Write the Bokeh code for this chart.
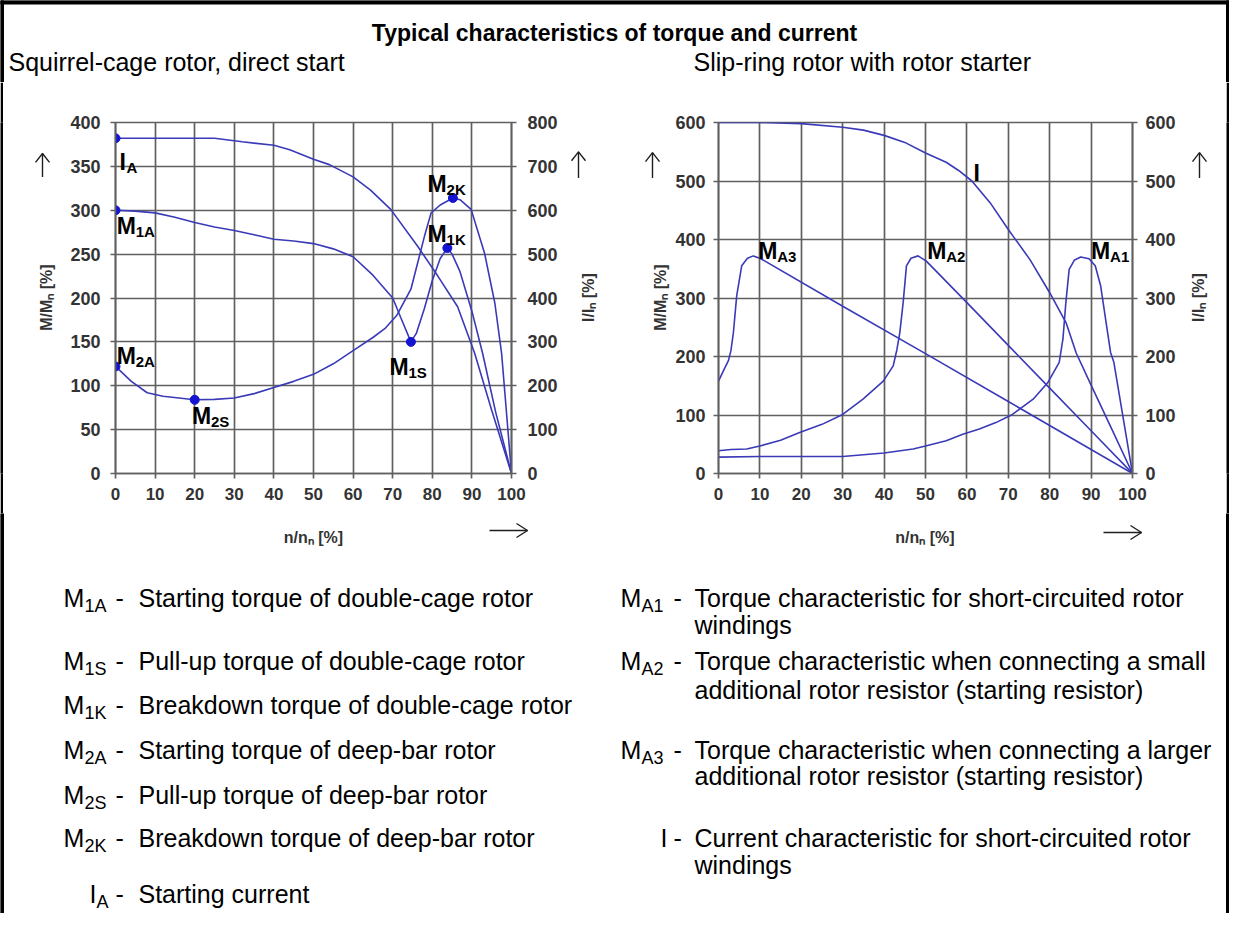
import math
from bokeh.plotting import figure
from bokeh.models import Range1d, LinearAxis, FixedTicker
from bokeh.layouts import column, row
from bokeh.embed import file_html
from bokeh.resources import INLINE
from bokeh.core.properties import value

# ---------------- data : left chart (squirrel-cage rotor, direct start) ----------------
speed_ticks = list(range(0, 101, 10))
torque_ticks_left = list(range(0, 401, 50))
current_ticks_left = list(range(0, 801, 100))

speed_m1 = [0, 5, 10, 15, 20, 25, 30, 35, 40, 45, 50, 55, 60, 65, 70, 72, 74.6, 76, 78, 80, 82, 83.8, 85, 87, 90, 92.7, 96, 100]
torque_m1 = [300, 299, 297, 292, 286, 281, 277, 272, 267, 265, 262, 256, 247, 226, 200, 178, 150, 160, 188, 220, 245, 257, 250, 230, 185, 137, 70, 0]

speed_m2 = [0, 4, 8, 12, 16, 20, 25, 30, 35, 40, 45, 50, 55, 60, 65, 68, 71, 74.6, 78, 79.7, 82, 85.2, 87, 89.8, 93.2, 95.8, 97.5, 100]
torque_m2 = [122, 105, 92, 88, 86, 84, 84.5, 86, 91, 98, 105, 113, 125, 140, 155, 165, 180, 210, 270, 297, 306, 314, 312, 301, 251, 194, 137, 0]

speed_ia = [0, 10, 20, 25, 32, 40, 44, 50, 54, 60, 64.4, 69.5, 76.3, 81.4, 86.4, 90.7, 95, 100]
current_ia = [764, 764, 764, 764, 756, 748, 738, 716, 704, 676, 646, 602, 518, 450, 380, 274, 144, 0]

key_main = ["M", "M", "M", "M", "M", "M"]
key_sub = ["1A", "1S", "1K", "2A", "2S", "2K"]
key_speed = [0, 74.6, 83.8, 0, 20, 85.2]
key_torque = [300, 150, 257, 122, 84, 314]
ia_speed = [0]
ia_current = [764]

# ---------------- data : right chart (slip-ring rotor with rotor starter) ----------------
torque_ticks_right = list(range(0, 601, 100))

speed_ma1 = [0, 10, 20, 30, 40, 47, 50, 55, 59, 63, 67, 71, 76, 79.5, 82.3, 83.2, 83.9, 84.7, 86, 87.5, 89.5, 91, 92.3, 93.5, 94.7, 95.5, 100]
torque_ma1 = [28, 29, 29, 29, 35, 42, 47, 56, 67, 76, 87, 101, 127, 155, 190, 230, 292, 349, 365, 370, 367, 355, 321, 264, 207, 190, 0]

speed_ma2 = [0, 3, 6.8, 10, 15, 19.6, 25, 30, 34.9, 39.8, 42.2, 43.1, 43.8, 44.6, 45.4, 46.5, 48.2, 50.2, 60, 70, 80, 90, 100]
torque_ma2 = [39, 41, 42, 47, 57, 70, 84, 101, 127, 158, 184, 212, 241, 292, 355, 368, 372, 363, 292, 219, 146, 73, 0]

speed_ma3 = [0, 1.5, 2.4, 3, 3.6, 4.4, 5.6, 7, 8.4, 10, 30, 50, 70, 90, 100]
torque_ma3 = [158, 180, 193, 210, 241, 304, 355, 368, 372, 368, 286, 205, 123, 41, 0]

speed_i = [0, 10, 20, 30, 35, 40, 45, 50, 55, 58, 61.2, 65.6, 70, 75.2, 80, 84, 86.4, 90, 95, 100]
current_i = [600, 600, 598, 592, 587, 578, 566, 548, 532, 518, 500, 463, 417, 366, 309, 257, 206, 151, 76, 0]

rkey_main = ["M", "M", "M", "I"]
rkey_sub = ["A3", "A2", "A1", ""]

# ---------------- texts ----------------
title_text = "Typical characteristics of torque and current"
subtitles = ["Squirrel-cage rotor, direct start", "Slip-ring rotor with rotor starter"]
x_title = "n/nₙ [%]"
m_title = "M/Mₙ [%]"
i_title = "I/Iₙ [%]"

left_sym = ["M", "M", "M", "M", "M", "M", "I"]
left_sub = ["1A", "1S", "1K", "2A", "2S", "2K", "A"]
left_desc = ["Starting torque of double-cage rotor",
             "Pull-up torque of double-cage rotor",
             "Breakdown torque of double-cage rotor",
             "Starting torque of deep-bar rotor",
             "Pull-up torque of deep-bar rotor",
             "Breakdown torque of deep-bar rotor",
             "Starting current"]
right_sym = ["M", "M", "M", "I"]
right_sub = ["A1", "A2", "A3", ""]
right_desc = [["Torque characteristic for short-circuited rotor", "windings"],
              ["Torque characteristic when connecting a small", "additional rotor resistor (starting resistor)"],
              ["Torque characteristic when connecting a larger", "additional rotor resistor (starting resistor)"],
              ["Current characteristic for short-circuited rotor", "windings"]]

# ---------------- styles ----------------
LINE = "#3a3ab8"
DOT = "#1414d2"
GRID = "#606060"
TICK_TXT = "#333333"
ARROW = "#1e1e1e"
SANS = "Liberation Sans"
ROW_TOP, ROW_BOT = 90, 521


def style_axis(ax, ticks, standoff=9, size="18px"):
    ax.ticker = FixedTicker(ticks=ticks)
    ax.major_label_text_font = SANS
    ax.major_label_text_font_style = "bold"
    ax.major_label_text_font_size = size
    ax.major_label_text_color = TICK_TXT
    ax.axis_line_color = GRID
    ax.axis_line_width = 1.7
    ax.major_tick_line_color = GRID
    ax.major_tick_line_width = 1.7
    ax.major_tick_in = 0
    ax.major_tick_out = 5
    ax.minor_tick_line_color = None
    ax.major_label_standoff = standoff


def style_fig(p):
    p.background_fill_color = "white"
    p.border_fill_color = "white"
    p.outline_line_color = GRID
    p.outline_line_width = 1.7
    p.grid.grid_line_color = GRID
    p.grid.grid_line_width = 1.7


def add_keys(p, xs, ys, mains, subs, y_range_name="default"):
    p.text(x=xs, y=ys, text=mains, text_baseline="top", text_align="left",
           text_font=value(SANS), text_font_style="bold", text_font_size="23px",
           text_color="black", y_range_name=y_range_name)
    offs = [7 if m == "I" else 19 for m in mains]
    p.text(x=xs, y=ys, text=subs, text_baseline="top", text_align="left",
           x_offset=offs, y_offset=10,
           text_font=value(SANS), text_font_style="bold", text_font_size="15px",
           text_color="black", y_range_name=y_range_name)


def pixel_fig(w, h, x0, x1, y0, y1):
    f = figure(width=w, height=h, x_range=Range1d(x0, x1), y_range=Range1d(y1, y0),
               toolbar_location=None, output_backend="svg", min_border=0,
               x_axis_type=None, y_axis_type=None)
    f.grid.visible = False
    f.outline_line_color = None
    f.background_fill_color = "white"
    f.border_fill_color = "white"
    return f


def up_arrow(f, x, top, bottom):
    f.line([x, x], [bottom, top], line_color=ARROW, line_width=1.4)
    f.line([x - 7, x, x + 7], [top + 11, top, top + 11], line_color=ARROW, line_width=1.4)


def right_arrow(f, left, right, y):
    f.line([left, right], [y, y], line_color=ARROW, line_width=1.4)
    f.line([right - 11, right, right - 11], [y - 7, y, y + 7], line_color=ARROW, line_width=1.4)


def side_title(f, x, y, txt):
    f.text(x=[x], y=[y], text=[txt], angle=math.pi / 2, text_align="center", text_baseline="middle",
           text_font=value(SANS), text_font_style="bold", text_font_size="16px", text_color=TICK_TXT)


# ---------------- left chart ----------------
pL = figure(width=502, height=ROW_BOT - ROW_TOP, x_range=Range1d(0, 100), y_range=Range1d(0, 400),
            output_backend="svg", toolbar_location=None,
            min_border_left=53, min_border_right=53, min_border_top=39, min_border_bottom=40)
style_fig(pL)
pL.extra_y_ranges = {"cur": Range1d(0, 800)}
pL.add_layout(LinearAxis(y_range_name="cur"), "right")
style_axis(pL.xaxis[0], speed_ticks, standoff=9, size="17px")
style_axis(pL.yaxis[0], torque_ticks_left, standoff=10)
style_axis(pL.yaxis[1], current_ticks_left, standoff=11)

pL.line(speed_ia, current_ia, y_range_name="cur", line_color=LINE, line_width=1.6)
pL.line(speed_m1, torque_m1, line_color=LINE, line_width=1.6)
pL.line(speed_m2, torque_m2, line_color=LINE, line_width=1.6)
pL.scatter(key_speed, key_torque, size=9, color=DOT)
pL.scatter(ia_speed, ia_current, size=9, color=DOT, y_range_name="cur")

add_keys(pL, [1.0], [370], ["I"], ["A"])
add_keys(pL, [0.3, 69.2, 78.8, 0.3, 19.3, 78.8], [297, 136, 288, 149, 80, 345], key_main, key_sub)

# ---------------- right chart ----------------
pR = figure(width=510, height=ROW_BOT - ROW_TOP, x_range=Range1d(0, 100), y_range=Range1d(0, 600),
            output_backend="svg", toolbar_location=None,
            min_border_left=45, min_border_right=50, min_border_top=40, min_border_bottom=40)
style_fig(pR)
pR.extra_y_ranges = {"cur": Range1d(0, 600)}
pR.add_layout(LinearAxis(y_range_name="cur"), "right")
style_axis(pR.xaxis[0], speed_ticks, standoff=9, size="17px")
style_axis(pR.yaxis[0], torque_ticks_right, standoff=8)
style_axis(pR.yaxis[1], torque_ticks_right, standoff=8)

pR.line(speed_i, current_i, y_range_name="cur", line_color=LINE, line_width=1.6)
pR.line(speed_ma1, torque_ma1, line_color=LINE, line_width=1.6)
pR.line(speed_ma2, torque_ma2, line_color=LINE, line_width=1.6)
pR.line(speed_ma3, torque_ma3, line_color=LINE, line_width=1.6)

add_keys(pR, [9.6, 50.4, 90, 61.6], [402, 402, 402, 536], rkey_main, rkey_sub)


# ---------------- side pads with axis titles and arrows ----------------
def strip(h):
    s = figure(width=3, height=h, toolbar_location=None, output_backend="svg",
               min_border=0, x_axis_type=None, y_axis_type=None)
    s.background_fill_color = "black"
    s.border_fill_color = "black"
    s.outline_line_color = None
    s.grid.visible = False
    return s


RH = ROW_BOT - ROW_TOP
padA = pixel_fig(59, RH, 11, 70, ROW_TOP, ROW_BOT)
up_arrow(padA, 50, 128, 157)
side_title(padA, 54, 305, m_title)

padB = pixel_fig(108, RH, 572, 680, ROW_TOP, ROW_BOT)
up_arrow(padB, 586, 126, 158)
side_title(padB, 596, 305, i_title)
up_arrow(padB, 660, 127, 158)
side_title(padB, 668, 305, m_title)

padC = pixel_fig(44, RH, 1190, 1234, ROW_TOP, ROW_BOT)
up_arrow(padC, 1207, 127, 158)
side_title(padC, 1206, 305, i_title)

# ---------------- header ----------------
hdr = pixel_fig(1229, 82, 8, 1237, 8, 90)
hdr.quad(left=[8, 8, 1234], right=[1237, 11, 1237], top=[8, 8, 8], bottom=[11.5, 90, 90], color="black")
hdr.text(x=[622], y=[40], text=[title_text], text_align="center", text_baseline="alphabetic",
         text_font=value(SANS), text_font_style="bold", text_font_size="23px", text_color="black")
hdr.text(x=[16, 701], y=[69, 69], text=subtitles, text_align="left", text_baseline="alphabetic",
         text_font=value(SANS), text_font_size="25px", text_color="black")

# ---------------- legend / explanations ----------------
leg = pixel_fig(1229, 921 - ROW_BOT, 8, 1237, ROW_BOT, 921)
leg.quad(left=[8, 1234], right=[11, 1237], top=[ROW_BOT, ROW_BOT], bottom=[921, 921], color="black")

# x axis titles and arrows under the charts
leg.text(x=[321, 932.5], y=[545, 545], text=[x_title, x_title], text_align="center", text_baseline="middle",
         text_font=value(SANS), text_font_style="bold", text_font_size="16px", text_color=TICK_TXT)
right_arrow(leg, 497, 535, 538)
right_arrow(leg, 1111, 1149, 540)

FS = "25px"
FSS = "18px"
left_rows = [605, 668, 712, 757, 802, 845, 901]
lx_main = [71 if s == "M" else 97 for s in left_sym]
lx_sub = [92 if s == "M" else 104 for s in left_sym]
leg.text(x=lx_main, y=left_rows, text=left_sym, text_baseline="alphabetic",
         text_font=value(SANS), text_font_size=FS, text_color="black")
leg.text(x=lx_sub, y=[r + 8 for r in left_rows], text=left_sub, text_baseline="alphabetic",
         text_font=value(SANS), text_font_size=FSS, text_color="black")
leg.text(x=[123] * len(left_rows), y=left_rows, text=["-"] * len(left_rows), text_baseline="alphabetic",
         text_font=value(SANS), text_font_size=FS, text_color="black")
leg.text(x=[146] * len(left_rows), y=left_rows, text=left_desc, text_baseline="alphabetic",
         text_font=value(SANS), text_font_size=FS, text_color="black")

right_rows = [605, 668, 757, 845]
second_rows = [632, 697, 783, 872]
rx_main = [628 if s == "M" else 668 for s in right_sym]
leg.text(x=rx_main, y=right_rows, text=right_sym, text_baseline="alphabetic",
         text_font=value(SANS), text_font_size=FS, text_color="black")
leg.text(x=[649] * 4, y=[r + 8 for r in right_rows], text=right_sub, text_baseline="alphabetic",
         text_font=value(SANS), text_font_size=FSS, text_color="black")
leg.text(x=[681] * 4, y=right_rows, text=["-"] * 4, text_baseline="alphabetic",
         text_font=value(SANS), text_font_size=FS, text_color="black")
leg.text(x=[702] * 4, y=right_rows, text=[d[0] for d in right_desc], text_baseline="alphabetic",
         text_font=value(SANS), text_font_size=FS, text_color="black")
leg.text(x=[702] * 4, y=second_rows, text=[d[1] for d in right_desc], text_baseline="alphabetic",
         text_font=value(SANS), text_font_size=FS, text_color="black")

layout = column(hdr, row(strip(RH), padA, pL, padB, pR, padC, strip(RH)), leg)

open("out.html", "w").write(file_html(layout, INLINE))
